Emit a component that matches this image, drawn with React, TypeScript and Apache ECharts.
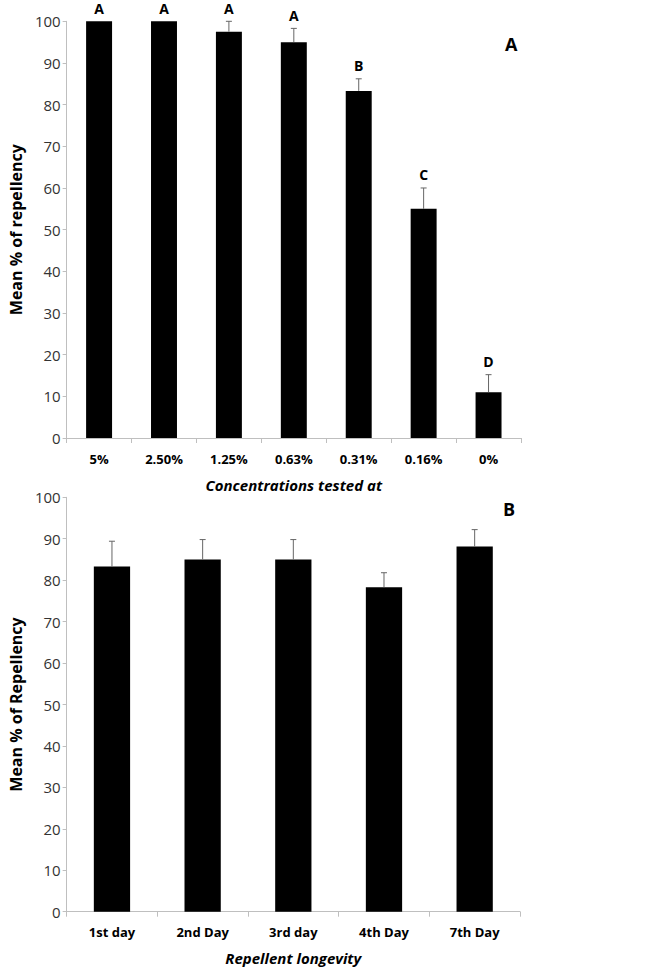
import React, { useEffect, useRef } from "react";
import * as echarts from "echarts";

const concCategories = ["5%", "2.50%", "1.25%", "0.63%", "0.31%", "0.16%", "0%"];
const concMeans = [100, 100, 97.5, 95, 83.3, 55, 11];
const concErrors = [0, 0, 2.5, 3.3, 2.9, 5, 4.2];
const concLetters = ["A", "A", "A", "A", "B", "C", "D"];

const dayCategories = ["1st day", "2nd Day", "3rd day", "4th Day", "7th Day"];
const dayMeans = [83.3, 85, 85, 78.3, 88.1];
const dayErrors = [6.1, 4.8, 4.8, 3.5, 4.1];

const yTicks = { min: 0, max: 100, interval: 10 };

const FONT = "'Open Sans', 'DejaVu Sans', sans-serif";
const AXIS_GRAY = "#bfbfbf";

function errorSeries(
  means: number[],
  errors: number[],
  letters: string[] | null,
  axisIndex: number
) {
  return {
    type: "custom",
    xAxisIndex: axisIndex,
    yAxisIndex: axisIndex,
    clip: false,
    z: 5,
    data: means.map((m, i) => [i, m, m + errors[i]]),
    renderItem: (params: any, api: any) => {
      const idx = api.value(0);
      const base = api.coord([idx, api.value(1)]);
      const top = api.coord([idx, api.value(2)]);
      const children: any[] = [];
      if (Math.abs(base[1] - top[1]) > 0.5) {
        children.push({
          type: "line",
          shape: { x1: base[0], y1: base[1], x2: base[0], y2: top[1] },
          style: { stroke: "#666", lineWidth: 1 },
        });
        children.push({
          type: "line",
          shape: { x1: base[0] - 3, y1: top[1], x2: base[0] + 3, y2: top[1] },
          style: { stroke: "#666", lineWidth: 1 },
        });
      }
      if (letters) {
        children.push({
          type: "text",
          x: base[0],
          y: top[1] - 13,
          style: {
            text: letters[params.dataIndex],
            textAlign: "center",
            textVerticalAlign: "middle",
            font: `bold 14px ${FONT}`,
            fill: "#000",
          },
        });
      }
      return { type: "group", children };
    },
  };
}

function xAxisDef(cats: string[], gridIndex: number, name: string) {
  return {
    type: "category",
    gridIndex,
    data: cats,
    boundaryGap: true,
    axisLine: { lineStyle: { color: AXIS_GRAY, width: 1 } },
    axisTick: { show: true, length: 5, lineStyle: { color: AXIS_GRAY } },
    axisLabel: {
      margin: 14,
      color: "#000",
      fontFamily: FONT,
      fontWeight: "bold",
      fontSize: 13,
    },
    name,
    nameLocation: "middle",
    nameGap: 39,
    nameTextStyle: {
      color: "#000",
      fontFamily: FONT,
      fontWeight: "bold",
      fontStyle: "italic",
      fontSize: 15,
    },
  };
}

function yAxisDef(gridIndex: number, name: string) {
  return {
    type: "value",
    gridIndex,
    min: yTicks.min,
    max: yTicks.max,
    interval: yTicks.interval,
    splitLine: { show: false },
    axisLine: { show: true, lineStyle: { color: AXIS_GRAY, width: 1 } },
    axisTick: { show: true, length: 4, lineStyle: { color: AXIS_GRAY } },
    axisLabel: {
      margin: 6,
      color: "#333",
      fontFamily: FONT,
      fontSize: 15,
    },
    name,
    nameLocation: "middle",
    nameGap: 33,
    nameTextStyle: {
      color: "#000",
      fontFamily: FONT,
      fontWeight: "bold",
      fontSize: 16,
    },
  };
}

export default function App() {
  const ref = useRef<HTMLDivElement>(null);
  useEffect(() => {
    if (!ref.current) return;
    const chart = echarts.init(ref.current, null, { renderer: "svg" });
    chart.setOption({
      animation: false,
      backgroundColor: "#fff",
      title: [
        {
          text: "A",
          left: 500,
          top: 30,
          textStyle: { fontFamily: FONT, fontWeight: "bold", fontSize: 18, color: "#000" },
        },
        {
          text: "B",
          left: 498,
          top: 495,
          textStyle: { fontFamily: FONT, fontWeight: "bold", fontSize: 18, color: "#000" },
        },
      ],
      grid: [
        { left: 51, right: 145, top: 21.3, height: 416.7 },
        { left: 51, right: 146, top: 497.3, height: 414.4 },
      ],
      xAxis: [
        xAxisDef(concCategories, 0, "Concentrations tested at"),
        xAxisDef(dayCategories, 1, "Repellent longevity"),
      ],
      yAxis: [yAxisDef(0, "Mean % of repellency"), yAxisDef(1, "Mean % of Repellency")],
      series: [
        {
          type: "bar",
          xAxisIndex: 0,
          yAxisIndex: 0,
          data: concMeans,
          barWidth: "40%",
          itemStyle: { color: "#000" },
        },
        errorSeries(concMeans, concErrors, concLetters, 0),
        {
          type: "bar",
          xAxisIndex: 1,
          yAxisIndex: 1,
          data: dayMeans,
          barWidth: "40%",
          itemStyle: { color: "#000" },
        },
        errorSeries(dayMeans, dayErrors, null, 1),
      ],
    });
    return () => chart.dispose();
  }, []);
  return (
    <div
      ref={ref}
      style={{ position: "absolute", left: 0, top: 0, width: 666, height: 971 }}
    />
  );
}
